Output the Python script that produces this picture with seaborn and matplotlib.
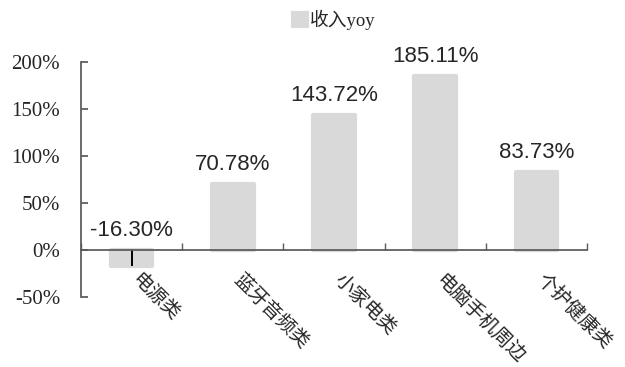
import matplotlib
matplotlib.use("Agg")
import matplotlib.pyplot as plt
import matplotlib.transforms as mtransforms
import seaborn as sns
import pandas as pd

categories = ["电源类", "蓝牙音频类", "小家电类", "电脑手机周边", "个护健康类"]
yoy = [-16.30, 70.78, 143.72, 185.11, 83.73]
y_ticks = [-50, 0, 50, 100, 150, 200]
series_name = "收入yoy"

sns.set_theme(style="white")
plt.rcParams["font.family"] = ["Liberation Serif", "Noto Sans CJK SC"]

df = pd.DataFrame({"cat": categories, "yoy": yoy})
bar_color = "#d9d9d9"
axis_color = "#595959"

fig = plt.figure(figsize=(6.25, 3.67), dpi=100)
ax = fig.add_axes([0.1296, 0.19, 0.8096, 0.6403])

sns.barplot(data=df, x="cat", y="yoy", color=bar_color, saturation=1,
            width=0.41, linewidth=3, edgecolor=bar_color, ax=ax,
            label=series_name)
for p in ax.patches:
    p.set_joinstyle("round")

# the little dark stroke inside the first (negative) bar
ax.vlines(0, yoy[0], 0, color="black", lw=1.4, zorder=3)

ax.set_xlim(-0.5, len(categories) - 0.5)
ax.set_ylim(y_ticks[0], y_ticks[-1])
ax.set_yticks(y_ticks)
ax.set_yticklabels([f"{t}%" for t in y_ticks], fontsize=15,
                   family="Liberation Serif")
ax.set_xlabel("")
ax.set_ylabel("")

for s in ["top", "right"]:
    ax.spines[s].set_visible(False)
ax.spines["bottom"].set_position(("data", 0))
ax.spines["bottom"].set_color(axis_color)
ax.spines["left"].set_color(axis_color)
ax.spines["bottom"].set_zorder(4)

ax.tick_params(axis="y", which="major", direction="in", length=5,
               color=axis_color, left=True, pad=15)

# category labels below zero line, boundary ticks pointing up
ax.set_xticks(range(len(categories)))
ax.set_xticklabels(categories, rotation=-45, ha="left", va="top",
                   rotation_mode="anchor", fontsize=14,
                   family=["Noto Sans CJK SC"])
ax.tick_params(axis="x", which="major", length=0, pad=14, bottom=True)
shift = mtransforms.ScaledTranslation(0.11, 0, fig.dpi_scale_trans)
for lbl in ax.get_xticklabels():
    lbl.set_transform(lbl.get_transform() + shift)
ax.set_xticks([i - 0.5 for i in range(len(categories) + 1)], minor=True)
ax.tick_params(axis="x", which="minor", direction="in", length=5,
               color=axis_color, bottom=True)

for i, v in enumerate(yoy):
    ax.annotate(f"{v:.2f}%", (i, max(v, 0)), xytext=(0, 10),
                textcoords="offset points", ha="center", va="baseline",
                fontsize=16, family="Liberation Sans", annotation_clip=False)

ax.legend(loc="center", bbox_to_anchor=(0.5, 1.18), frameon=False,
          handlelength=0.75, handleheight=0.75, handletextpad=0.15,
          prop={"family": ["Liberation Serif", "Noto Sans CJK SC"],
                "size": 13.5})

fig.savefig("out.png", dpi=100)
